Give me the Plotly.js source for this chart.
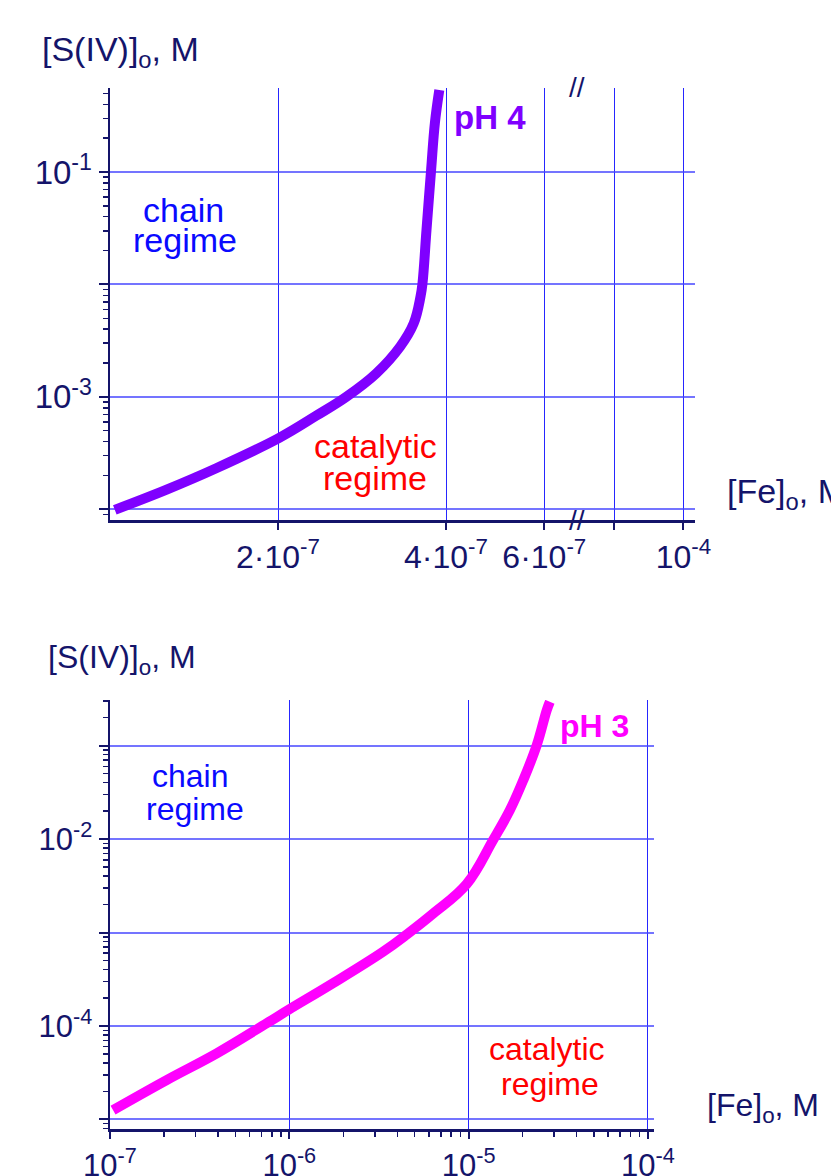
<!DOCTYPE html>
<html>
<head>
<meta charset="utf-8">
<script src="https://cdn.plot.ly/plotly-3.0.1.min.js"></script>
<style>html,body{margin:0;padding:0;background:#fff;}#chart{width:831px;height:1176px;}</style>
</head>
<body>
<div id="chart"></div>
<script>
// ---- data ----
// pH 4 curve (upper panel)
const fe_pH4 = [1.02e-7, 1.26e-7, 1.55e-7, 2.01e-7, 2.34e-7, 2.65e-7, 3.0e-7, 3.31e-7, 3.5e-7, 3.6e-7, 3.63e-7, 3.69e-7, 3.76e-7, 3.82e-7, 3.89e-7];
const s_pH4  = [9.9e-5, 1.49e-4, 2.32e-4, 4.32e-4, 6.78e-4, 1.0e-3, 1.62e-3, 2.8e-3, 4.5e-3, 7.8e-3, 1.03e-2, 3.05e-2, 0.103, 0.273, 0.536];
// pH 3 curve (lower panel)
const fe_pH3 = [1.04e-7, 2.07e-7, 3.94e-7, 7.48e-7, 9.96e-7, 1.76e-6, 3.34e-6, 4.52e-6, 6.36e-6, 9.76e-6, 1.37e-5, 1.70e-5, 2.02e-5, 2.40e-5, 2.73e-5, 2.84e-5];
const s_pH3  = [1.26e-5, 2.64e-5, 5.1e-5, 1.07e-4, 1.50e-4, 2.88e-4, 6.24e-4, 9.52e-4, 1.6e-3, 3.30e-3, 9.76e-3, 2.04e-2, 4.28e-2, 0.101, 0.240, 0.294];

// tick labels
const topXTickVals = [2e-7, 4e-7, 6e-7, 8e-7, 1.065e-6];   // last one stands for 10^-4 after the axis break
const topXTickText = ['2·10<sup>-7</sup>', '4·10<sup>-7</sup>', '6·10<sup>-7</sup>', '', '10<sup>-4</sup>'];
const topYTickVals = [1e-4, 1e-3, 1e-2, 1e-1];
const topYTickText = ['', '10<sup>-3</sup>', '', '10<sup>-1</sup>'];
const botXTickVals = [1e-7, 1e-6, 1e-5, 1e-4];
const botXTickText = ['10<sup>-7</sup>', '10<sup>-6</sup>', '10<sup>-5</sup>', '10<sup>-4</sup>'];
const botYTickVals = [1e-5, 1e-4, 1e-3, 1e-2, 1e-1];
const botYTickText = ['', '10<sup>-4</sup>', '', '10<sup>-2</sup>', ''];
const topMirrorXTicks = [1.40e-7, 2.72e-7, 5.32e-7, 8e-7, 1.065e-6];

// ---- layout helpers ----
const W = 831, H = 1176;
const px = x => x / W;
const py = y => 1 - y / H;
function minorLog(lo, hi) { const v = []; for (let e = lo; e < hi; e++) for (let m = 2; m <= 9; m++) v.push(+(m * Math.pow(10, e)).toPrecision(3)); return v; }

const NAVY = '#14146a';
const FONT = 'Liberation Sans, Arial, sans-serif';
const GRIDH = 'rgba(70,70,255,0.75)';
const GRIDV = '#2626ff';

const topXRange = [-7, Math.log10(1.117e-6)];
const topYRange = [-4.095, -0.253];
const botXRange = [-7, -3.966];
const botYRange = [-5.102, -0.513];

const traces = [
  {x: fe_pH4, y: s_pH4, xaxis: 'x', yaxis: 'y', mode: 'lines', line: {color: '#7f00ff', width: 10, shape: 'spline', smoothing: 1.1}, hoverinfo: 'skip'},
  {x: fe_pH3, y: s_pH3, xaxis: 'x2', yaxis: 'y2', mode: 'lines', line: {color: '#ff00ff', width: 10, shape: 'spline', smoothing: 1.1}, hoverinfo: 'skip'}
];

const baseAxis = {type: 'log', showline: true, linecolor: NAVY, linewidth: 2.5, zeroline: false, ticks: 'outside', tickcolor: NAVY, tickwidth: 2, ticklen: 9, tickfont: {family: FONT, size: 32, color: NAVY}};

const layout = {
  width: W, height: H,
  margin: {l: 0, r: 0, t: 0, b: 0},
  paper_bgcolor: '#fff', plot_bgcolor: '#fff',
  showlegend: false, hovermode: false,
  xaxis: Object.assign({}, baseAxis, {domain: [px(110), px(695)], anchor: 'y', range: topXRange, tickmode: 'array', tickvals: topXTickVals, ticktext: topXTickText, showgrid: true, gridcolor: GRIDV, gridwidth: 1, ticklen: 7, ticklabelstandoff: 0}),
  yaxis: Object.assign({}, baseAxis, {domain: [py(520), py(88)], anchor: 'x', range: topYRange, tickmode: 'array', tickvals: topYTickVals, ticktext: topYTickText, showgrid: true, gridcolor: GRIDH, gridwidth: 2, tickfont: {family: FONT, size: 33, color: NAVY},
    minor: {tickmode: 'array', tickvals: minorLog(-5, 0), ticks: 'outside', ticklen: 5, tickcolor: NAVY, tickwidth: 1.5, showgrid: false}}),
  xaxis3: {type: 'log', overlaying: 'x', anchor: 'y', side: 'top', range: topXRange, showline: true, linecolor: NAVY, linewidth: 2, showgrid: false, zeroline: false, ticks: 'inside', ticklen: 7, tickwidth: 2, tickcolor: NAVY, tickmode: 'array', tickvals: topMirrorXTicks, showticklabels: false},
  yaxis3: {type: 'log', overlaying: 'y', anchor: 'x', side: 'right', range: topYRange, showline: true, linecolor: NAVY, linewidth: 2, showgrid: false, zeroline: false, ticks: 'inside', ticklen: 9, tickwidth: 2, tickcolor: NAVY, tickmode: 'array', tickvals: topYTickVals, showticklabels: false,
    minor: {tickmode: 'array', tickvals: minorLog(-5, 0), ticks: 'inside', ticklen: 5, tickcolor: NAVY, tickwidth: 1.5, showgrid: false}},

  xaxis2: Object.assign({}, baseAxis, {domain: [px(110), px(654)], anchor: 'y2', range: botXRange, tickmode: 'array', tickvals: botXTickVals, ticktext: botXTickText, showgrid: true, gridcolor: GRIDV, gridwidth: 1, tickfont: {family: FONT, size: 31, color: NAVY}, ticklen: 7, ticklabelstandoff: 0,
    minor: {tickmode: 'array', tickvals: minorLog(-7, -3), ticks: 'outside', ticklen: 5, tickcolor: NAVY, tickwidth: 1.5, showgrid: false}}),
  yaxis2: Object.assign({}, baseAxis, {domain: [py(1129), py(700)], anchor: 'x2', range: botYRange, tickmode: 'array', tickvals: botYTickVals, ticktext: botYTickText, showgrid: true, gridcolor: GRIDH, gridwidth: 2, tickfont: {family: FONT, size: 31, color: NAVY},
    minor: {tickmode: 'array', tickvals: minorLog(-6, 0), ticks: 'outside', ticklen: 5, tickcolor: NAVY, tickwidth: 1.5, showgrid: false}}),
  xaxis4: {type: 'log', overlaying: 'x2', anchor: 'y2', side: 'top', range: botXRange, showline: true, linecolor: '#222', linewidth: 2, showgrid: false, zeroline: false, ticks: 'inside', ticklen: 8, tickwidth: 2, tickcolor: '#222', tickmode: 'array', tickvals: botXTickVals, showticklabels: false,
    minor: {tickmode: 'array', tickvals: minorLog(-7, -3), ticks: 'inside', ticklen: 5, tickcolor: '#222', tickwidth: 1.5, showgrid: false}},
  yaxis4: {type: 'log', overlaying: 'y2', anchor: 'x2', side: 'right', range: botYRange, showline: true, linecolor: NAVY, linewidth: 2, showgrid: false, zeroline: false, ticks: 'inside', ticklen: 8, tickwidth: 2, tickcolor: NAVY, tickmode: 'array', tickvals: botYTickVals, showticklabels: false,
    minor: {tickmode: 'array', tickvals: minorLog(-6, 0), ticks: 'inside', ticklen: 5, tickcolor: NAVY, tickwidth: 1.5, showgrid: false}},

  annotations: [
    // upper panel
    {text: '[S(IV)]<sub>o</sub>, M', x: px(40), y: py(51), xanchor: 'left', yanchor: 'middle', font: {family: FONT, size: 34, color: NAVY}},
    {text: '[Fe]<sub>o</sub>, M', x: px(725), y: py(494), xanchor: 'left', yanchor: 'middle', font: {family: FONT, size: 34, color: NAVY}},
    {text: 'chain', x: px(183), y: py(210), xanchor: 'center', yanchor: 'middle', font: {family: FONT, size: 34, color: '#0a0aff'}},
    {text: 'regime', x: px(185), y: py(240), xanchor: 'center', yanchor: 'middle', font: {family: FONT, size: 34, color: '#0a0aff'}},
    {text: 'catalytic', x: px(375), y: py(446), xanchor: 'center', yanchor: 'middle', font: {family: FONT, size: 34, color: '#ff0000'}},
    {text: 'regime', x: px(375), y: py(478), xanchor: 'center', yanchor: 'middle', font: {family: FONT, size: 34, color: '#ff0000'}},
    {text: '<b>pH 4</b>', x: px(452), y: py(117), xanchor: 'left', yanchor: 'middle', font: {family: FONT, size: 33, color: '#7f00ff'}},
    {text: '//', x: px(577), y: py(88), xanchor: 'center', yanchor: 'middle', font: {family: FONT, size: 28, color: NAVY}},
    {text: '//', x: px(577), y: py(520), xanchor: 'center', yanchor: 'middle', font: {family: FONT, size: 28, color: NAVY}},
    // lower panel
    {text: '[S(IV)]<sub>o</sub>, M', x: px(46), y: py(659), xanchor: 'left', yanchor: 'middle', font: {family: FONT, size: 32, color: NAVY}},
    {text: '[Fe]<sub>o</sub>, M', x: px(705), y: py(1107), xanchor: 'left', yanchor: 'middle', font: {family: FONT, size: 32, color: NAVY}},
    {text: 'chain', x: px(190), y: py(776), xanchor: 'center', yanchor: 'middle', font: {family: FONT, size: 32, color: '#0a0aff'}},
    {text: 'regime', x: px(195), y: py(809), xanchor: 'center', yanchor: 'middle', font: {family: FONT, size: 32, color: '#0a0aff'}},
    {text: 'catalytic', x: px(547), y: py(1049), xanchor: 'center', yanchor: 'middle', font: {family: FONT, size: 32, color: '#ff0000'}},
    {text: 'regime', x: px(550), y: py(1084), xanchor: 'center', yanchor: 'middle', font: {family: FONT, size: 32, color: '#ff0000'}},
    {text: '<b>pH 3</b>', x: px(558), y: py(726), xanchor: 'left', yanchor: 'middle', font: {family: FONT, size: 32, color: '#ff00ff'}}
  ].map(a => Object.assign({xref: 'paper', yref: 'paper', showarrow: false}, a))
};

Plotly.newPlot('chart', traces, layout, {displayModeBar: false, staticPlot: true});
</script>
</body>
</html>
